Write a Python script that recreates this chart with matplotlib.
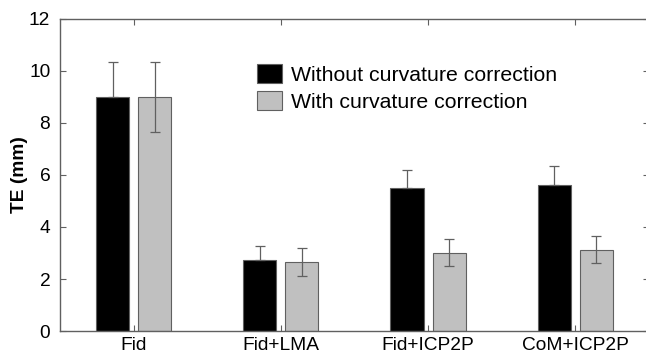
import matplotlib.pyplot as plt
import numpy as np

plt.rcParams['font.family'] = ['Liberation Sans', 'DejaVu Sans']

methods = ['Fid', 'Fid+LMA', 'Fid+ICP2P', 'CoM+ICP2P']
without_corr = [9.0, 2.73, 5.49, 5.60]
without_err = [1.33, 0.55, 0.70, 0.76]
with_corr = [9.0, 2.67, 3.01, 3.12]
with_err = [1.35, 0.54, 0.52, 0.52]

x = np.arange(len(methods))
w = 0.225
off = 0.143
edge = '#606060'
ekw = dict(ecolor=edge, elinewidth=0.9, capthick=0.9)

fig = plt.figure(figsize=(6.46, 3.55), dpi=100)
ax = fig.add_axes([0.0929, 0.0676, 0.9117, 0.8789])

# black bars hide the lower half of their error bars
ax.bar(x - off, without_corr, w, color='black', edgecolor=edge, linewidth=0.8,
       yerr=[np.zeros(len(x)), without_err], capsize=3.5, error_kw=ekw,
       label='Without curvature correction', zorder=2)
ax.bar(x + off, with_corr, w, color='#c0c0c0', edgecolor=edge, linewidth=0.8,
       yerr=with_err, capsize=3.5, error_kw=ekw,
       label='With curvature correction', zorder=2)

ax.set_xlim(-0.5, 3.5)
ax.set_ylim(0, 12)
ax.set_xticks(x)
ax.set_xticklabels(methods, fontsize=13.8)
ax.set_yticks(range(0, 13, 2))
ax.tick_params(axis='y', labelsize=13.8, pad=7)
ax.tick_params(axis='x', pad=4)
ax.tick_params(direction='in', length=4, color=edge, top=True, right=True)
for s in ax.spines.values():
    s.set_color(edge)
    s.set_linewidth(1.0)

ax.set_ylabel('TE (mm)', fontsize=13.8, fontweight='bold', labelpad=1)

ax.legend(loc='upper left', bbox_to_anchor=(0.335, 0.857), frameon=False, fontsize=15.3,
          handlelength=1.15, handleheight=1.05, handletextpad=0.45, labelspacing=0.28,
          borderaxespad=0, borderpad=0)

fig.savefig('out.png', dpi=100)
